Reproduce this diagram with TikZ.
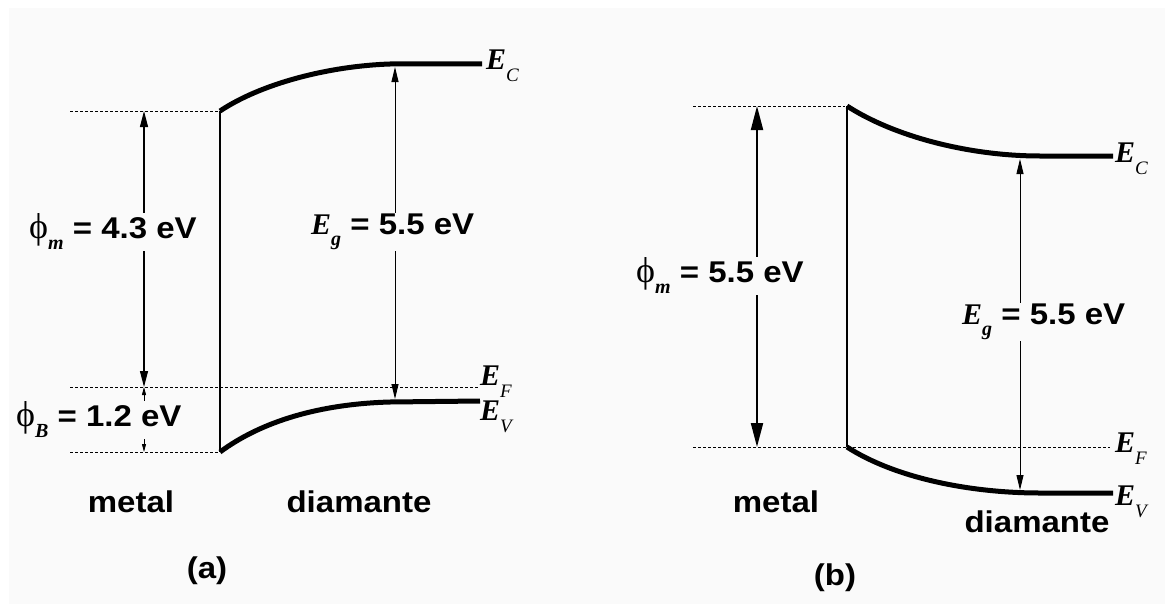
\documentclass[tikz,border=0pt]{standalone}
\usepackage{fontspec}
\setmainfont{Liberation Sans}[FakeStretch=1.1]
\newfontfamily\tnr{Liberation Serif}
\usetikzlibrary{arrows.meta}

\definecolor{paper}{gray}{0.98}
% band label E_x and work function phi_x
\newcommand{\band}[2]{{\fontsize{30}{30}\selectfont\tnr\bfseries\itshape #1}\raisebox{-12pt}{\fontsize{19}{19}\selectfont\tnr\itshape #2}}
\newcommand{\wf}[1]{{\fontsize{36}{36}\selectfont\tnr\mdseries ϕ}\raisebox{-11pt}{\fontsize{20}{20}\selectfont\tnr\bfseries\itshape #1}}
\newcommand{\gap}{{\fontsize{30}{30}\selectfont\tnr\bfseries\itshape E}\raisebox{-11pt}{\fontsize{20}{20}\selectfont\tnr\bfseries\itshape g}}

\begin{document}
\begin{tikzpicture}[x=1pt, y=-1pt,
  levl/.style={line width=5pt},
  wall/.style={line width=2.8pt},
  fermi/.style={line width=1pt, dash pattern=on 3pt off 2pt},
  arr/.style={line width=1.1pt, {Triangle[length=16pt,width=8pt]}-{Triangle[length=16pt,width=8pt]}},
  gaparr/.style={line width=0.9pt, {Triangle[length=15pt,width=7pt]}-{Triangle[length=15pt,width=7pt]}},
  bigarr/.style={line width=2pt, {Triangle[length=24pt,width=12pt]}-{Triangle[length=24pt,width=12pt]}},
  smallarr/.style={line width=0.8pt, {Triangle[length=8pt,width=4pt]}-{Triangle[length=8pt,width=4pt]}},
  lbl/.style={fill=paper, inner sep=1pt, font=\fontsize{30}{30}\selectfont\bfseries},
  txt/.style={inner sep=0pt, font=\fontsize{30}{30}\selectfont\bfseries},
  lev/.style={inner sep=0pt, anchor=base west}
]
  \useasboundingbox (0,0) rectangle (1172,610);
  \fill[paper] (9,8) rectangle (1165,604);

  % ---- (a) metal with phi_m = 4.3 eV
  \coordinate (ma-top) at (144,111);
  \coordinate (ma-ef)  at (144,387);
  \coordinate (ma-bot) at (144,452);
  \coordinate (ga-top) at (395,67);
  \coordinate (ga-bot) at (395,399);

  \draw[fermi] (70,111) -- (218,111);
  \draw[fermi] (70,387) -- (478,387);
  \draw[fermi] (70,452) -- (218,452);
  \draw[wall] (220,111) -- (220,452);
  \draw[levl] (220,111) .. controls (262,83) and (330,66) .. (390,64) -- (482,64);
  \draw[levl] (220,452) .. controls (262,421) and (320,404) .. (390,402) -- (480,401);

  \draw[arr] (ma-top) -- (ma-ef);
  \draw[smallarr] (ma-ef) -- (ma-bot);
  \draw[gaparr] (ga-top) -- (ga-bot);

  \node[lbl, anchor=west] (phim-a) at (28,232) {\wf{m} = 4.3 eV};
  \node[lbl, anchor=west] (phib-a) at (15,420) {\wf{B} = 1.2 eV};
  \node[lbl, anchor=west] (eg-a)   at (310,232) {\gap{} = 5.5 eV};

  \node[lev] (ec-a) at (486,70)  {\band{E}{C}};
  \node[lev] (ef-a) at (480,385) {\band{E}{F}};
  \node[lev] (ev-a) at (480,420) {\band{E}{V}};

  \node[txt] (metal-a) at (131,502) {metal};
  \node[txt] (diam-a)  at (359,502) {diamante};
  \node[txt] (cap-a)   at (207,571) {(a)};

  % ---- (b) metal with phi_m = 5.5 eV
  \coordinate (mb-top) at (757,106);
  \coordinate (mb-bot) at (757,447);
  \coordinate (gb-top) at (1020,159);
  \coordinate (gb-bot) at (1020,490);

  \draw[fermi] (693,106) -- (845,106);
  \draw[fermi] (693,447) -- (1110,447);
  \draw[wall] (847,106) -- (847,447);
  \draw[levl] (847,106) .. controls (895,137) and (970,156) .. (1040,156) -- (1113,156);
  \draw[levl] (847,447) .. controls (895,478) and (970,493) .. (1040,493) -- (1113,493);

  \draw[bigarr] (mb-top) -- (mb-bot);
  \draw[gaparr] (gb-top) -- (gb-bot);

  \node[lbl, anchor=west] (phim-b) at (635,276) {\wf{m} = 5.5 eV};
  \node[lbl, anchor=west] (eg-b)   at (961,322) {\gap{} = 5.5 eV};

  \node[lev] (ec-b) at (1115,162) {\band{E}{C}};
  \node[lev] (ef-b) at (1115,452) {\band{E}{F}};
  \node[lev] (ev-b) at (1115,505) {\band{E}{V}};

  \node[txt] (metal-b) at (776,502) {metal};
  \node[txt] (diam-b)  at (1037,522) {diamante};
  \node[txt] (cap-b)   at (835,578) {(b)};
\end{tikzpicture}
\end{document}
